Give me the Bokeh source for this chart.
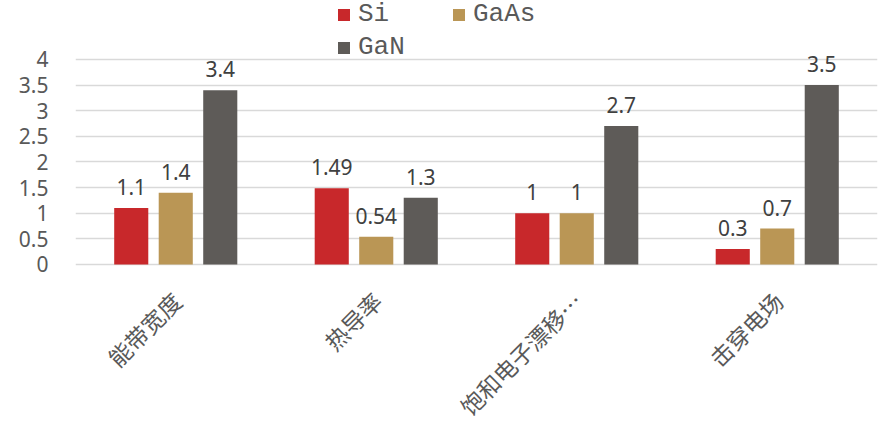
import math
from bokeh.plotting import figure
from bokeh.models import ColumnDataSource, FactorRange, Range1d, Legend, LegendItem, FixedTicker
from bokeh.transform import dodge
from bokeh.core.properties import value
from bokeh.embed import file_html
from bokeh.resources import INLINE

# Relative material properties (normalised)
categories = ["能带宽度", "热导率", "饱和电子漂移…", "击穿电场"]
si = [1.1, 1.49, 1, 0.3]
gaas = [1.4, 0.54, 1, 0.7]
gan = [3.4, 1.3, 2.7, 3.5]
series_names = ["Si", "GaAs", "GaN"]
y_ticks = [0, 0.5, 1, 1.5, 2, 2.5, 3, 3.5, 4]

colors = ["#C8282B", "#BA9655", "#5E5B58"]

src = ColumnDataSource(data=dict(
    cat=categories,
    si=si, gaas=gaas, gan=gan,
    si_lbl=[str(v) for v in si],
    gaas_lbl=[str(v) for v in gaas],
    gan_lbl=[str(v) for v in gan],
))

# The frame covers the whole canvas height: the room above 4 holds the legend,
# the room below 0 holds the slanted category names.
p = figure(
    width=884, height=424,
    x_range=FactorRange(*categories, range_padding=0),
    y_range=Range1d(-3.122, 5.151),
    output_backend="svg", toolbar_location=None,
    min_border_left=75, min_border_right=7,
    min_border_top=0, min_border_bottom=0,
)
p.outline_line_color = None

offsets = [-0.222, 0.0, 0.222]
keys = ["si", "gaas", "gan"]
renderers = {}
for key, off, col in zip(keys, offsets, colors):
    renderers[key] = p.vbar(x=dodge("cat", off, range=p.x_range), top=key, width=0.17,
                            source=src, fill_color=col, line_color=None)
    p.text(x=dodge("cat", off, range=p.x_range), y=key, text=key + "_lbl",
           source=src, text_align="center", text_baseline="bottom",
           y_offset=-13, text_font=value("Noto Sans"), text_font_size="21px",
           text_color="#404040")

# Category names, slanted at 45 degrees and ending just under each group
cat_src = ColumnDataSource(data=dict(cat=categories, base=[0] * len(categories)))
p.text(x="cat", y="base", text="cat", source=cat_src, angle=math.pi / 4,
       text_align="right", text_baseline="top", x_offset=-11, y_offset=20,
       text_font=value("Noto Sans CJK SC"), text_font_size="23px",
       text_color="#595959")

# Axes and grid
p.xaxis.visible = False
p.xgrid.grid_line_color = None
p.ygrid.grid_line_color = "#D9D9D9"
p.ygrid.grid_line_width = 1.5
p.yaxis.ticker = FixedTicker(ticks=y_ticks)
p.yaxis.axis_line_color = None
p.yaxis.major_tick_line_color = None
p.yaxis.major_tick_out = 0
p.yaxis.minor_tick_line_color = None
p.yaxis.minor_tick_out = 0
p.yaxis.major_label_standoff = 27
p.yaxis.major_label_text_font = "Noto Sans"
p.yaxis.major_label_text_font_size = "21px"
p.yaxis.major_label_text_color = "#595959"

# Legend fills column by column: Si / GaN in the first column, GaAs in the second
legend_order = ["si", "gan", "gaas"]
legend = Legend(
    items=[LegendItem(label=series_names[keys.index(k)], renderers=[renderers[k]])
           for k in legend_order],
    ncols=2, location=(261, 362),
    glyph_width=15, glyph_height=15, label_standoff=7, label_width=90,
    spacing=3, padding=0, margin=0,
    label_text_font="Liberation Mono", label_text_font_size="26px",
    label_text_color="#595959", label_height=24,
    border_line_color=None, background_fill_alpha=0,
)
p.add_layout(legend, "center")

open("out.html", "w").write(file_html(p, INLINE))
